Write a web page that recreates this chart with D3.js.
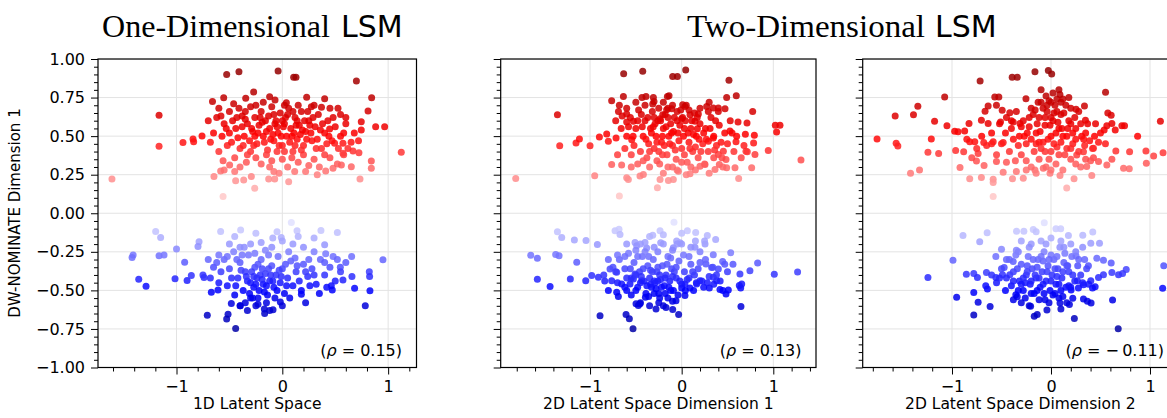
<!DOCTYPE html>
<html><head><meta charset="utf-8">
<script src="https://cdn.jsdelivr.net/npm/d3@7"></script>
<style>
body{margin:0;background:#fff;}
svg{display:block;}
text{font-family:"DejaVu Sans",sans-serif;fill:#000;}
</style></head>
<body><svg id="chart" width="1167" height="418"></svg>
<script>
// ---------------- DATA ----------------
const yTicks = [1.0,0.75,0.5,0.25,0,-0.25,-0.5,-0.75,-1.0];
const xTicks = [-1,0,1];
const titles = ["One-Dimensional", "Two-Dimensional"];
const xLabels = ["1D Latent Space","2D Latent Space Dimension 1","2D Latent Space Dimension 2"];
const rhoValues = ["0.15","0.13","\u2212\u20090.11"];

const p1Red = [[-0.526,0.90],[-0.41,0.918],[-0.04,0.922],[0.107,0.881],[0.129,0.881],[0.70,0.857],
[-0.66,0.724],[-0.554,0.749],[-0.346,0.745],[-0.271,0.786],[-0.12,0.756],[-0.069,0.734],[0.038,0.717],[0.23,0.752],[0.40,0.743],[0.844,0.749],
[-1.165,0.635],[-1.165,0.434],[-1.61,0.222],[-0.56,0.108],[-0.261,0.162],[1.124,0.395],[0.967,0.561],[0.882,0.561],[0.746,0.594],[0.746,0.54],[0.81,0.663],[0.526,0.68],[0.37,0.687],[0.274,0.691],[0.447,0.546],[0.494,0.454],[0.573,0.454],[0.668,0.404],[0.724,0.393],[0.573,0.389],[0.841,0.339],[0.841,0.292],[0.734,0.222],[0.652,0.302],[0.558,0.313],[0.479,0.292],[0.41,0.274],
[-0.939,0.458],[-0.844,0.482],[-0.838,0.464],[-0.759,0.501],[-0.646,0.238],[-0.583,0.274],[-0.498,0.313],[-0.45,0.27],[-0.365,0.216],[-0.441,0.21],[-0.293,0.238],[-0.129,0.222],[-0.072,0.222],[0.06,0.205],[0.117,0.27],[-0.031,0.259],
[-0.62,0.62],[-0.55,0.58],[-0.5,0.66],[-0.47,0.6],[-0.44,0.55],[-0.41,0.68],[-0.38,0.63],[-0.36,0.5],[-0.33,0.58],[-0.3,0.69],[-0.28,0.53],[-0.26,0.62],[-0.24,0.45],[-0.22,0.57],[-0.2,0.66],[-0.18,0.5],[-0.16,0.6],[-0.14,0.41],[-0.12,0.55],[-0.1,0.69],[-0.08,0.47],[-0.06,0.6],[-0.04,0.52],[-0.02,0.65],[0,0.44],[0.02,0.58],[0.04,0.5],[0.06,0.68],[0.08,0.55],[0.1,0.4],[0.12,0.62],[0.14,0.48],[0.16,0.57],[0.18,0.66],[0.2,0.44],[0.22,0.53],[0.25,0.6],[0.28,0.47],[0.31,0.56],[0.34,0.64],[0.37,0.42],[0.4,0.52],[0.43,0.6],[0.47,0.47],[0.5,0.56],[0.55,0.5],[0.6,0.58],[0.65,0.46],
[-0.6,0.4],[-0.52,0.44],[-0.45,0.36],[-0.4,0.42],[-0.34,0.33],[-0.3,0.4],[-0.25,0.36],[-0.2,0.32],[-0.15,0.38],[-0.1,0.34],[-0.05,0.4],[0,0.35],[0.05,0.3],[0.09,0.36],[0.15,0.33],[0.2,0.38],[0.25,0.31],[0.3,0.35],[0.35,0.3],[0.45,0.36],[0.52,0.32],[0.58,0.38],[0.62,0.42],
[-0.7,0.6],[-0.6,0.68],[-0.46,0.71],[-0.35,0.66],[-0.25,0.7],[-0.18,0.72],[-0.08,0.64],[0.02,0.7],[0.1,0.66],[0.15,0.7],[0.24,0.66],[0.3,0.7],[0.45,0.68],[0.55,0.64],
[-0.42,0.49],[-0.38,0.56],[-0.31,0.47],[-0.27,0.44],[-0.23,0.52],[-0.17,0.46],[-0.13,0.63],[-0.09,0.51],[-0.05,0.56],[-0.01,0.5],[0.03,0.62],[0.07,0.46],[0.11,0.52],[0.13,0.57],[0.17,0.51],[0.21,0.6],[0.27,0.52],[0.33,0.48],[0.38,0.58],[0.42,0.45],[0.48,0.62],[0.53,0.42],[0.58,0.52],
[-0.65,0.52],[-0.57,0.5],[-0.5,0.52],[-0.68,0.46],[-0.56,0.34],
[-0.35,0.61],[-0.29,0.55],[-0.19,0.59],[-0.11,0.48],[-0.07,0.58],[-0.03,0.44],[0.01,0.56],[0.05,0.64],[0.09,0.5],[0.14,0.6],[0.19,0.54],[0.23,0.48],[0.29,0.62],[0.32,0.42],[0.36,0.54],[0.44,0.5],[-0.48,0.46],[-0.43,0.62],[-0.37,0.44],[-0.21,0.62],[-0.15,0.53],[0.0,0.6],[0.12,0.44],[0.26,0.57],[-0.26,0.5],[-0.33,0.38],[-0.12,0.3],[0.02,0.4],[0.18,0.41],[0.4,0.38],[-0.53,0.55],[-0.58,0.63],[0.6,0.62],[0.68,0.52],[0.72,0.47],[-0.08,0.27],[0.22,0.27],[-0.4,0.3],[-0.55,0.28],[0.33,0.25]];

const p1Blue = [[0.085,-0.06],[-1.197,-0.119],[-1.15,-0.158],[-1.41,-0.27],[-1.42,-0.287],[-1.165,-0.276],[-1.118,-0.27],[-1.0,-0.231],[-0.923,-0.317],[-0.787,-0.184],[-0.797,-0.216],
[-1.357,-0.428],[-1.288,-0.473],[-1.014,-0.425],[-0.9,-0.436],[-0.86,-0.404],[-0.74,-0.417],[-0.671,-0.512],[-0.608,-0.497],[-0.709,-0.661],[-0.513,-0.654],[-0.526,-0.685],[-0.441,-0.747],[-0.482,-0.585],[-0.397,-0.6],
[-0.583,-0.119],[-0.394,-0.108],[-0.01,-0.158],[0.139,-0.114],[0.365,-0.112],[0.52,-0.125],[0.4,-0.205],[0.41,-0.263],[0.655,-0.281],[0.951,-0.302],[0.548,-0.35],[0.658,-0.41],[0.822,-0.38],[0.825,-0.41],[0.573,-0.432],[0.683,-0.486],[0.828,-0.503],[0.784,-0.6],[0.463,-0.47],[0.472,-0.497],[0.18,-0.525],[-0.088,-0.626],[-0.167,-0.65],[-0.019,-0.575],[-0.23,-0.59],[-0.3,-0.55],
[-0.55,-0.3],[-0.5,-0.36],[-0.46,-0.25],[-0.42,-0.42],[-0.4,-0.32],[-0.37,-0.5],[-0.35,-0.38],[-0.32,-0.27],[-0.3,-0.45],[-0.28,-0.55],[-0.26,-0.35],[-0.24,-0.42],[-0.22,-0.5],[-0.2,-0.3],[-0.18,-0.46],[-0.16,-0.39],[-0.14,-0.53],[-0.12,-0.44],[-0.1,-0.34],[-0.08,-0.48],[-0.06,-0.4],[-0.04,-0.28],[-0.02,-0.45],[0,-0.36],[0.02,-0.52],[0.05,-0.42],[0.08,-0.31],[0.1,-0.47],[0.13,-0.38],[0.16,-0.44],[0.2,-0.33],[0.24,-0.41],[0.28,-0.36],[0.32,-0.46],[0.36,-0.3],[0.4,-0.4],[0.45,-0.35],[0.5,-0.44],[0.55,-0.38],[0.6,-0.32],
[0.3,-0.25],[0.2,-0.22],[0.1,-0.2],[0,-0.18],[-0.1,-0.22],[-0.2,-0.19],[-0.3,-0.2],[-0.4,-0.22],[-0.5,-0.2],[-0.6,-0.27],[-0.65,-0.35],[-0.7,-0.3],[-0.75,-0.4],[-0.6,-0.45],[-0.52,-0.47],[-0.45,-0.53],[-0.35,-0.58],[-0.25,-0.6],[-0.15,-0.58],
[-0.33,-0.44],[-0.27,-0.48],[-0.21,-0.4],[-0.17,-0.51],[-0.11,-0.4],[-0.07,-0.55],[-0.03,-0.37],[0.04,-0.47],[0.07,-0.55],[0.12,-0.29],[0.18,-0.5],[0.26,-0.47],[0.35,-0.52],[0.42,-0.48],[0.48,-0.28],[0.15,-0.15],[-0.05,-0.12],[-0.25,-0.13],[-0.45,-0.15],[0.3,-0.16],[-0.38,-0.27],[-0.48,-0.42],[-0.58,-0.38],[-0.23,-0.33],[-0.13,-0.27],[0.22,-0.58],
[-0.34,-0.41],[-0.29,-0.38],[-0.25,-0.46],[-0.19,-0.43],[-0.15,-0.47],[-0.13,-0.36],[-0.09,-0.44],[-0.05,-0.5],[-0.01,-0.41],[0.03,-0.33],[-0.44,-0.47],[-0.39,-0.37],[-0.31,-0.52],[-0.23,-0.55],[-0.19,-0.36],[-0.27,-0.41],[-0.17,-0.62],[-0.33,-0.63],[-0.43,-0.3],[-0.36,-0.22],[-0.16,-0.24],[0.06,-0.25],[0.14,-0.34],[0.22,-0.38],[0.3,-0.4],[-0.62,-0.32],[-0.68,-0.42],[-0.52,-0.28],[0.4,-0.32],[0.52,-0.3],[-0.09,-0.16],[0.25,-0.3],[-0.26,-0.26],[-0.12,-0.63],[0.0,-0.6],[-0.4,-0.6]];

const p2Red = [[-0.633,0.905],[-0.425,0.92],[-0.098,0.886],[-0.047,0.886],[0.044,0.929],[0.516,0.862],
[-0.636,0.757],[-0.764,0.729],[-0.433,0.75],[-0.389,0.757],[-0.309,0.75],[-0.302,0.725],[-0.316,0.708],[-0.156,0.757],[-0.138,0.761],[0.011,0.703],[0.491,0.75],[0.596,0.761],[0.775,0.66],
[-1.356,0.639],[-1.331,0.437],[-1.153,0.456],[-1.116,0.482],[-1.0,0.437],[-0.898,0.495],[1.022,0.57],[1.073,0.57],[1.036,0.527],[0.945,0.406],[1.302,0.346],[-1.811,0.226],[-0.949,0.243],[-0.68,0.112],[-0.265,0.166],
[0.622,0.226],[0.764,0.295],[0.702,0.402],[0.716,0.398],[0.8,0.381],[0.793,0.505],[0.785,0.456],[0.713,0.585],[0.695,0.512],[0.615,0.591],[0.593,0.464],[0.527,0.533],
[-0.764,0.316],[-0.655,0.312],[-0.6,0.23],[-0.582,0.219],[-0.455,0.241],[-0.418,0.252],[-0.818,0.514],[-0.8,0.467],[-0.716,0.488],[-0.545,0.477],[-0.69,0.66],[-0.68,0.7],[-0.6,0.643],[-0.527,0.596],[-0.6,0.591],
[0.4,0.381],[0.455,0.402],[0.484,0.348],[0.364,0.284],[0.411,0.316],[0.491,0.295],[0.582,0.295],[0.091,0.256],[0.2,0.305],[0.255,0.316],[-0.236,0.219],[-0.145,0.213],[-0.091,0.219],[-0.036,0.273],[0.291,0.467],[0.345,0.488],
[0.273,0.692],[0.291,0.66],[0.345,0.682],[0.4,0.682],[0.473,0.677],[0.182,0.643],[0.145,0.596],[0.171,0.548],[0.036,0.692],[0.091,0.639],[0,0.613],[-0.164,0.671],[-0.109,0.677],[-0.236,0.613],[-0.207,0.639],
[-0.72,0.6],[-0.66,0.55],[-0.6,0.5],[-0.56,0.62],[-0.52,0.44],[-0.5,0.55],[-0.47,0.67],[-0.45,0.4],[-0.42,0.5],[-0.4,0.6],[-0.38,0.36],[-0.36,0.45],[-0.34,0.55],[-0.32,0.66],[-0.3,0.42],[-0.28,0.5],[-0.26,0.6],[-0.24,0.32],[-0.22,0.46],[-0.2,0.55],[-0.18,0.64],[-0.16,0.38],[-0.14,0.5],[-0.12,0.58],[-0.1,0.44],[-0.08,0.62],[-0.06,0.35],[-0.04,0.52],[-0.02,0.57],[0,0.42],[0.02,0.5],[0.04,0.6],[0.06,0.33],[0.08,0.46],[0.1,0.55],[0.12,0.4],[0.14,0.65],[0.16,0.5],[0.18,0.36],[0.2,0.58],[0.23,0.45],[0.26,0.55],[0.29,0.4],[0.32,0.62],[0.35,0.5],[0.38,0.44],[0.41,0.57],[0.44,0.36],[0.47,0.52],[0.5,0.45],[0.53,0.6],[0.57,0.4],[0.6,0.5],[0.65,0.36],[0.68,0.44],
[-0.62,0.42],[-0.55,0.38],[-0.48,0.32],[-0.35,0.3],[-0.25,0.4],[-0.15,0.3],[-0.05,0.28],[0.05,0.25],[0.15,0.28],[0.25,0.32],[0.35,0.36],[0.45,0.3],
[-0.6,0.68],[-0.5,0.72],[-0.4,0.7],[-0.25,0.68],[-0.2,0.72],[-0.1,0.7],[-0.05,0.66],[0.05,0.7],[0.2,0.68],[0.3,0.72],[0.4,0.66],
[-0.33,0.52],[-0.29,0.58],[-0.21,0.5],[-0.17,0.56],[-0.13,0.45],[-0.09,0.53],[-0.03,0.47],[0.01,0.62],[0.07,0.52],[0.11,0.6],[0.15,0.43],[0.19,0.48],[-0.37,0.62],[-0.43,0.56],[-0.27,0.46],[0.27,0.48],
[-0.31,0.56],[-0.23,0.6],[-0.19,0.44],[-0.11,0.52],[-0.07,0.41],[-0.01,0.67],[0.03,0.55],[0.09,0.42],[0.13,0.51],[0.17,0.62],[0.21,0.4],[0.24,0.52],[-0.39,0.48],[-0.44,0.64],[-0.35,0.4],[-0.27,0.34],[-0.15,0.62],[-0.05,0.6],[0.03,0.38],[-0.53,0.5],[-0.58,0.56],[-0.48,0.6],[0.31,0.55],[0.37,0.6],[0.43,0.46],[-0.21,0.38],[-0.1,0.3],[0.0,0.33],[0.1,0.3],[-0.42,0.34],[-0.3,0.62],[-0.15,0.68],[0.08,0.67],[0.36,0.41],[-0.65,0.63],[0.55,0.52],[-0.7,0.38],[-0.55,0.3],[0.3,0.26],[-0.2,0.26]];

const p2Blue = [[-0.084,-0.058],[-1.356,-0.12],[-1.309,-0.157],[-1.647,-0.273],[-1.575,-0.292],[-1.375,-0.267],[-1.338,-0.275],[-1.145,-0.318],[-1.171,-0.174],[-1.044,-0.176],[-0.92,-0.202],
[-1.575,-0.428],[-1.436,-0.475],[-1.215,-0.426],[-1.047,-0.437],[-0.982,-0.404],[-0.909,-0.415],[-0.84,-0.44],[-0.891,-0.665],[-0.607,-0.656],[-0.571,-0.684],[-0.531,-0.748],[-0.498,-0.587],[-0.473,-0.598],[-0.455,-0.587],[-0.396,-0.544],
[-0.171,-0.611],[-0.098,-0.624],[-0.033,-0.656],[-0.062,-0.568],[0.036,-0.533],[0.647,-0.604],[0.644,-0.484],[0.629,-0.469],[0.655,-0.458],[0.484,-0.523],[0.509,-0.497],[0.418,-0.495],[0.302,-0.484],[1.011,-0.396],[1.265,-0.381],[0.829,-0.323],[0.745,-0.372],[0.636,-0.394],
[0.535,-0.256],[0.447,-0.312],[0.345,-0.269],[0.371,-0.17],[0.28,-0.144],[0.153,-0.125],[0.062,-0.114],[-0.316,-0.142],[-0.236,-0.114],[-0.229,-0.191],[-0.727,-0.114],[-0.684,-0.103],[-0.673,-0.138],[-0.509,-0.189],[-0.491,-0.211],[-0.382,-0.226],[0.255,-0.2],[0.145,-0.221],[-0.018,-0.191],[-0.055,-0.18],[-0.091,-0.224],
[0.265,-0.329],[0.327,-0.351],[0.4,-0.361],[0.382,-0.437],[0.345,-0.415],[0.2,-0.437],[0.164,-0.458],[0.036,-0.458],[0.091,-0.484],[0,-0.484],[-0.8,-0.501],[-0.709,-0.512],[-0.691,-0.54],[-0.6,-0.501],[-0.564,-0.458],[-0.655,-0.458],[-0.764,-0.437],[-0.709,-0.383],[-0.782,-0.361],[-0.527,-0.426],[-0.509,-0.394],[-0.436,-0.437],
[-0.68,-0.3],[-0.62,-0.36],[-0.58,-0.26],[-0.55,-0.42],[-0.52,-0.32],[-0.48,-0.48],[-0.46,-0.38],[-0.43,-0.28],[-0.41,-0.44],[-0.39,-0.52],[-0.37,-0.34],[-0.35,-0.42],[-0.33,-0.48],[-0.31,-0.3],[-0.29,-0.45],[-0.27,-0.38],[-0.25,-0.52],[-0.23,-0.43],[-0.21,-0.34],[-0.19,-0.47],[-0.17,-0.4],[-0.15,-0.28],[-0.13,-0.44],[-0.11,-0.36],[-0.09,-0.5],[-0.06,-0.42],[-0.03,-0.31],[0,-0.46],[0.03,-0.38],[0.06,-0.43],[0.1,-0.33],[0.14,-0.4],[0.18,-0.36],[0.22,-0.44],[0.26,-0.3],[0.3,-0.41],[0.34,-0.35],[0.42,-0.44],[0.5,-0.38],[0.56,-0.33],
[0.2,-0.25],[0.1,-0.22],[0,-0.2],[-0.1,-0.24],[-0.2,-0.2],[-0.3,-0.22],[-0.4,-0.19],[-0.5,-0.24],[-0.6,-0.2],[-0.7,-0.27],[-0.75,-0.35],[-0.8,-0.3],[-0.85,-0.4],[-0.7,-0.45],[-0.62,-0.48],[-0.55,-0.53],[-0.45,-0.58],[-0.35,-0.6],[-0.25,-0.58],[-0.15,-0.55],
[-0.34,-0.46],[-0.28,-0.49],[-0.24,-0.4],[-0.18,-0.52],[-0.12,-0.5],[-0.08,-0.38],[-0.04,-0.53],[0.04,-0.5],[0.08,-0.28],[0.13,-0.5],[0.24,-0.48],[0.35,-0.46],[0.45,-0.5],[-0.2,-0.14],[-0.35,-0.15],[0.0,-0.13],[0.25,-0.18],[-0.42,-0.36],[-0.5,-0.4],[-0.6,-0.42],[-0.32,-0.38],[-0.26,-0.44],[-0.3,-0.52],
[-0.44,-0.41],[-0.38,-0.47],[-0.34,-0.37],[-0.3,-0.44],[-0.26,-0.35],[-0.22,-0.48],[-0.18,-0.42],[-0.14,-0.48],[-0.1,-0.41],[-0.06,-0.35],[-0.02,-0.44],[-0.5,-0.5],[-0.45,-0.45],[-0.36,-0.54],[-0.24,-0.55],[-0.16,-0.33],[-0.36,-0.28],[-0.26,-0.25],[-0.12,-0.29],[0.02,-0.27],[0.12,-0.38],[0.2,-0.32],[0.28,-0.45],[-0.56,-0.36],[-0.62,-0.28],[-0.72,-0.38],[-0.48,-0.28],[-0.4,-0.25],[-0.2,-0.6],[-0.1,-0.57],[0.08,-0.42],[0.16,-0.45],[-0.28,-0.62],[-0.05,-0.2],[0.15,-0.18],[-0.45,-0.2],[0.38,-0.4],[0.47,-0.33]];

const p3Red = [[-0.716,0.858],[-0.392,0.882],[-0.341,0.882],[-0.162,0.918],[-0.027,0.925],[0.007,0.903],[0.551,0.785],
[-1.074,0.753],[-0.568,0.753],[-0.527,0.753],[-0.253,0.742],[-1.345,0.693],[-1.389,0.639],[-1.574,0.631],[-1.176,0.597],[-1.757,0.481],[-1.564,0.453],[-1.547,0.436],[-1.209,0.481],[-1.243,0.395],[-1.135,0.388],[-1.419,0.26],[-1.328,0.281],
[-1.051,0.567],[-0.973,0.532],[-0.939,0.528],[-0.872,0.534],[-0.828,0.582],[-0.963,0.406],[-0.882,0.399],[-0.919,0.296],[-0.821,0.223],[-0.703,0.232],[-0.584,0.221],[-0.584,0.2],[-0.584,0.109],[0.159,0.163],[0.233,0.223],[0.412,0.245],
[0.574,0.65],[0.608,0.635],[0.338,0.695],[0.253,0.674],[0.348,0.603],[0.537,0.539],[0.564,0.567],[0.615,0.582],[0.649,0.539],[0.716,0.567],[0.743,0.567],[0.875,0.5],[1.105,0.597],[0.959,0.403],[1.037,0.371],[1.132,0.393],[0.963,0.324],[0.733,0.292],[0.791,0.288],[0.655,0.403],[0.794,0.399],
[0.615,0.35],[0.564,0.313],[0.48,0.335],[0.429,0.36],[0.429,0.421],[0.328,0.399],[0.26,0.378],[0.361,0.303],[0.091,0.245],[-0.01,0.26],[-0.078,0.292],[-0.162,0.281],[-0.389,0.223],[-0.28,0.227],[-0.483,0.266],
[-0.551,0.335],[-0.676,0.309],[-0.753,0.339],[-0.736,0.388],[-0.821,0.464],[-0.77,0.464],[-0.679,0.459],[-0.584,0.464],[-0.483,0.459],[-0.666,0.661],[-0.635,0.695],[-0.551,0.7],[-0.493,0.667],[-0.416,0.652],[-0.703,0.603],[-0.635,0.582],[-0.51,0.592],[-0.382,0.592],[-0.314,0.582],
[-0.45,0.62],[-0.4,0.55],[-0.35,0.66],[-0.32,0.5],[-0.28,0.6],[-0.25,0.45],[-0.22,0.56],[-0.2,0.68],[-0.17,0.4],[-0.15,0.52],[-0.12,0.62],[-0.1,0.72],[-0.08,0.46],[-0.06,0.57],[-0.04,0.66],[-0.02,0.35],[0,0.5],[0.02,0.6],[0.04,0.7],[0.06,0.43],[0.08,0.55],[0.1,0.64],[0.12,0.74],[0.14,0.38],[0.16,0.5],[0.18,0.6],[0.2,0.68],[0.22,0.45],[0.25,0.55],[0.28,0.4],[0.31,0.5],[0.34,0.44],[0.37,0.58],[0.4,0.34],[0.44,0.5],[0.48,0.46],[-0.5,0.45],[-0.55,0.38],[-0.6,0.52],[-0.65,0.44],[-0.7,0.5],[-0.75,0.42],[-0.8,0.36],[-0.85,0.48],
[-0.42,0.4],[-0.36,0.34],[-0.3,0.38],[-0.2,0.3],[-0.12,0.35],[-0.05,0.3],[0.05,0.32],[0.12,0.28],[0.2,0.35],[0.3,0.3],[-0.45,0.33],[-0.25,0.34],
[-0.05,0.76],[0.02,0.78],[0.08,0.8],[-0.1,0.8],[0.1,0.72],[-0.02,0.73],[0.06,0.66],[-0.08,0.68],[0.15,0.7],[0.0,0.62],[-0.14,0.58],[-0.18,0.64],[0.24,0.62],[0.28,0.66],[0.2,0.58],[0.05,0.52],[-0.03,0.48],[0.1,0.46],[-0.24,0.52],[-0.3,0.56],[-0.38,0.48],[0.35,0.52],[0.42,0.42],[0.45,0.58],[0.16,0.42],[0.25,0.48],[-0.1,0.42],[-0.15,0.45],[0.0,0.4],[0.08,0.38],
[-0.06,0.62],[-0.01,0.57],[0.03,0.65],[0.07,0.59],[0.11,0.55],[-0.11,0.53],[-0.16,0.67],[-0.22,0.62],[0.13,0.65],[0.17,0.55],[-0.04,0.7],[0.0,0.72],[0.06,0.74],[-0.13,0.72],[0.18,0.75],[0.09,0.77],[-0.27,0.5],[-0.33,0.44],[0.22,0.52],[0.3,0.58],[0.33,0.48],[0.39,0.47],[-0.2,0.48],[-0.12,0.46],[-0.06,0.4],[0.03,0.45],[0.12,0.5],[0.2,0.42],[-0.4,0.6],[-0.46,0.52],[-0.52,0.58],[-0.6,0.45],[0.5,0.52],[0.55,0.45],[-0.25,0.28],[0.0,0.28],[0.25,0.32],[-0.35,0.27],[0.35,0.35],[-0.15,0.26]];

const p3Blue = [[-0.068,-0.062],[-0.889,-0.144],[-0.645,-0.127],[-0.72,-0.185],[-0.348,-0.116],[-0.274,-0.116],[-0.179,-0.105],[0.098,-0.101],[0.176,-0.144],[0.321,-0.142],[0.422,-0.122],[0.402,-0.195],[0.49,-0.195],
[-0.99,-0.305],[-1.243,-0.416],[-0.855,-0.395],[-0.78,-0.391],[-0.743,-0.416],[-0.652,-0.384],[-0.557,-0.416],[-0.49,-0.399],[-0.416,-0.399],[-0.953,-0.545],[-0.78,-0.513],[-0.736,-0.577],[-0.78,-0.659],[-0.615,-0.605],[-0.642,-0.491],[-0.659,-0.47],[-0.355,-0.528],[-0.341,-0.541],
[-0.206,-0.603],[-0.169,-0.667],[-0.139,-0.657],[-0.041,-0.627],[0.091,-0.582],[0.186,-0.592],[0.236,-0.682],[0.22,-0.551],[0.328,-0.556],[0.368,-0.571],[0.405,-0.582],[0.622,-0.562],[0.679,-0.749],[1.128,-0.487],[1.139,-0.341],
[0.76,-0.365],[0.723,-0.391],[0.682,-0.399],[0.615,-0.384],[0.53,-0.399],[0.48,-0.416],[0.402,-0.438],[0.328,-0.464],[0.277,-0.485],[0.267,-0.438],[0.203,-0.498],[0.608,-0.322],[0.53,-0.305],[0.463,-0.292],[0.378,-0.341],[0.253,-0.277],[0.169,-0.341],[0.446,-0.476],[0.419,-0.485],
[-0.557,-0.281],[-0.5,-0.234],[-0.473,-0.352],[-0.382,-0.313],[-0.355,-0.27],
[-0.42,-0.3],[-0.38,-0.38],[-0.35,-0.24],[-0.32,-0.44],[-0.3,-0.33],[-0.28,-0.5],[-0.25,-0.4],[-0.23,-0.28],[-0.21,-0.46],[-0.19,-0.36],[-0.17,-0.52],[-0.15,-0.42],[-0.13,-0.3],[-0.11,-0.48],[-0.09,-0.38],[-0.07,-0.25],[-0.05,-0.44],[-0.03,-0.34],[-0.01,-0.5],[0.01,-0.4],[0.03,-0.3],[0.05,-0.46],[0.07,-0.36],[0.09,-0.22],[0.11,-0.42],[0.13,-0.32],[0.15,-0.48],[0.18,-0.38],[0.21,-0.28],[0.24,-0.44],[0.27,-0.34],[0.3,-0.4],[0.34,-0.3],[0.38,-0.46],
[-0.1,-0.18],[-0.2,-0.2],[0,-0.16],[0.1,-0.18],[0.2,-0.2],[-0.3,-0.18],[-0.15,-0.12],[0.05,-0.1],[-0.45,-0.42],[-0.5,-0.36],[-0.55,-0.45],[-0.6,-0.4],[-0.46,-0.5],[-0.38,-0.56],[-0.3,-0.58],[-0.22,-0.6],[-0.12,-0.56],[-0.02,-0.58],[0.08,-0.55],[0.16,-0.58],
[-0.26,-0.45],[-0.2,-0.52],[-0.14,-0.35],[-0.07,-0.52],[0.0,-0.27],[0.04,-0.52],[0.1,-0.5],[0.14,-0.26],[0.2,-0.48],[-0.33,-0.5],[-0.4,-0.47],[-0.24,-0.34],[-0.08,-0.31],[0.06,-0.41],[0.25,-0.25],[0.32,-0.22],
[-0.12,-0.42],[-0.08,-0.46],[-0.04,-0.38],[0.0,-0.44],[0.04,-0.36],[0.08,-0.46],[0.12,-0.38],[-0.16,-0.4],[-0.2,-0.44],[-0.24,-0.38],[-0.18,-0.3],[-0.1,-0.28],[-0.02,-0.3],[0.06,-0.28],[0.16,-0.34],[0.22,-0.4],[-0.28,-0.42],[-0.34,-0.36],[-0.06,-0.56],[0.02,-0.53],[-0.14,-0.5],[0.12,-0.54],[-0.26,-0.55],[-0.05,-0.2],[0.13,-0.22],[-0.22,-0.22],[-0.33,-0.25],[0.28,-0.3],[0.32,-0.45],[0.36,-0.36],[-0.45,-0.3],[-0.52,-0.42],[0.1,-0.62],[-0.3,-0.46],[0.18,-0.47],[-0.38,-0.44]];

// ---------------- LAYOUT ----------------
const svg = d3.select("#chart");
const yTop = 59, yBottom = 367.5;
const panels = [
  {left:98,   right:416.5, dom:[-1.742,1.268], pts:p1Red.concat(p1Blue), rho:rhoValues[0], xl:xLabels[0], yLab:true},
  {left:500.7,right:816,   dom:[-1.975,1.466], pts:p2Red.concat(p2Blue), rho:rhoValues[1], xl:xLabels[1], yLab:false},
  {left:862.7,right:1178.5,dom:[-1.902,1.288], pts:p3Red.concat(p3Blue), rho:rhoValues[2], xl:xLabels[2], yLab:false}
];
const y = d3.scaleLinear().domain([-1,1]).range([yBottom, yTop]);
const seismic = d3.scaleLinear().domain([-1,-0.5,0,0.5,1])
  .range(["#00004c","#0000ff","#ffffff","#ff0000","#800000"]).clamp(true);

const yMinor = d3.range(-100,101,5).map(v=>v/100).filter(v=>Math.abs(v*4-Math.round(v*4))>1e-6);

panels.forEach((p,i)=>{
  const x = d3.scaleLinear().domain(p.dom).range([p.left,p.right]);
  const g = svg.append("g");
  const cid = "clip"+i;
  svg.append("clipPath").attr("id",cid).append("rect")
    .attr("x",p.left).attr("y",yTop).attr("width",p.right-p.left).attr("height",yBottom-yTop);
  const grid = g.append("g").attr("clip-path",`url(#${cid})`);
  grid.selectAll("line.gx").data(xTicks).enter().append("line")
    .attr("x1",d=>x(d)).attr("x2",d=>x(d)).attr("y1",yTop).attr("y2",yBottom)
    .attr("stroke","#e3e3e3").attr("stroke-width",1);
  grid.selectAll("line.gy").data(yTicks).enter().append("line")
    .attr("x1",p.left).attr("x2",p.right).attr("y1",d=>y(d)).attr("y2",d=>y(d))
    .attr("stroke","#e3e3e3").attr("stroke-width",1);
  g.append("g").attr("clip-path",`url(#${cid})`)
    .selectAll("circle").data(p.pts).enter().append("circle")
    .attr("cx",d=>x(d[0])).attr("cy",d=>y(d[1])).attr("r",3.5)
    .attr("fill",d=>seismic(d[1])).attr("fill-opacity",0.85);
  const xMinor = d3.range(-30,31,2).map(v=>v/10).filter(v=>v>=p.dom[0]&&v<=p.dom[1]&&Math.abs(v-Math.round(v))>1e-6);
  const xa = g.append("g").attr("transform",`translate(0,${yBottom})`)
    .call(d3.axisBottom(x).tickValues(xTicks).tickSize(7).tickPadding(6).tickFormat(d3.format("d")));
  const xm = g.append("g").attr("transform",`translate(0,${yBottom})`)
    .call(d3.axisBottom(x).tickValues(xMinor).tickSize(4).tickFormat(""));
  const ya = g.append("g").attr("transform",`translate(${p.left},0)`)
    .call(d3.axisLeft(y).tickValues(yTicks).tickSize(7).tickPadding(6)
      .tickFormat(p.yLab ? d3.format(".2f") : ""));
  const ym = g.append("g").attr("transform",`translate(${p.left},0)`)
    .call(d3.axisLeft(y).tickValues(yMinor).tickSize(4).tickFormat(""));
  [xa,xm,ya,ym].forEach(a=>{
    a.select(".domain").remove();
    a.selectAll(".tick line").attr("stroke","#000").attr("stroke-width",1);
    a.selectAll("text").style("font-family","'DejaVu Sans'").style("font-size","16px").attr("fill","#000");
  });
  g.append("rect").attr("x",p.left).attr("y",yTop).attr("width",p.right-p.left).attr("height",yBottom-yTop)
    .attr("fill","none").attr("stroke","#000").attr("stroke-width",1.2);
  g.append("text").attr("x",(p.left+Math.min(p.right,1178))/2).attr("y",409)
    .attr("text-anchor","middle").style("font-size","15.5px").text(p.xl);
  const t = g.append("text").attr("x",p.right-14.5).attr("y",355.5)
    .attr("text-anchor","end").style("font-size","16px");
  t.append("tspan").text("(");
  t.append("tspan").style("font-style","italic").text("\u03c1");
  t.append("tspan").text(" = " + p.rho + ")");
});

svg.append("text").attr("transform","translate(20,213) rotate(-90)")
  .attr("text-anchor","middle").style("font-size","15px").text("DW-NOMINATE Dimension 1");

function title(xStart, len, lsmX, txt){
  svg.append("text").attr("x",xStart).attr("y",37)
    .style("font-family","'Liberation Serif',serif").style("font-size","31px")
    .attr("textLength",len).attr("lengthAdjust","spacingAndGlyphs").text(txt);
  svg.append("text").attr("x",lsmX).attr("y",37)
    .style("font-family","'DejaVu Sans'").style("font-size","30px").text("LSM");
}
title(102, 228, 341, titles[0]);
title(687, 238, 935, titles[1]);
</script></body></html>
